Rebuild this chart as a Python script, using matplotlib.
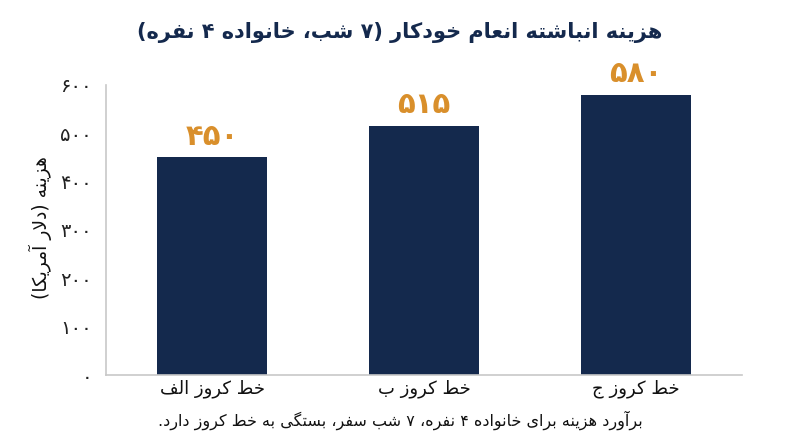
import matplotlib
matplotlib.use("Agg")
import matplotlib.pyplot as plt

# data
categories = ["خط کروز الف", "خط کروز ب", "خط کروز ج"]
costs = [450, 515, 580]
y_ticks = [0, 100, 200, 300, 400, 500, 600]
title = "هزینه انباشته انعام خودکار (۷ شب، خانواده ۴ نفره)"
y_label = "هزینه (دلار آمریکا)"
caption = "برآورد هزینه برای خانواده ۴ نفره، ۷ شب سفر، بستگی به خط کروز دارد."

NAVY = "#14294d"
ORANGE = "#d98f2b"

# matplotlib does no arabic shaping, so do a small one by hand
DUAL = {
    'ب': 0xFE8F, 'ت': 0xFE95, 'ث': 0xFE99, 'ج': 0xFE9D, 'ح': 0xFEA1,
    'خ': 0xFEA5, 'س': 0xFEB1, 'ش': 0xFEB5, 'ص': 0xFEB9, 'ض': 0xFEBD,
    'ط': 0xFEC1, 'ظ': 0xFEC5, 'ع': 0xFEC9, 'غ': 0xFECD, 'ف': 0xFED1,
    'ق': 0xFED5, 'ل': 0xFEDD, 'م': 0xFEE1, 'ن': 0xFEE5, 'ه': 0xFEE9,
    'پ': 0xFB56, 'چ': 0xFB7A, 'ک': 0xFB8E, 'گ': 0xFB92, 'ی': 0xFBFC,
}
RIGHT = {
    'ا': 0xFE8D, 'آ': 0xFE81, 'د': 0xFEA9, 'ذ': 0xFEAB, 'ر': 0xFEAD,
    'ز': 0xFEAF, 'و': 0xFEED, 'ژ': 0xFB8A,
}
LAM_ALEF = {'ا': 0xFEFB, 'آ': 0xFEF5}
DIGITS = set("۰۱۲۳۴۵۶۷۸۹0123456789")


def joins(c):
    return c in DUAL or c in RIGHT


def shape(text):
    out = []
    i = 0
    n = len(text)
    while i < n:
        c = text[i]
        prev = text[i - 1] if i > 0 else ''
        link_prev = prev in DUAL and joins(c)
        if c == 'ل' and i + 1 < n and text[i + 1] in LAM_ALEF:
            base = LAM_ALEF[text[i + 1]]
            out.append(chr(base + (1 if link_prev else 0)))
            i += 2
            continue
        nxt = text[i + 1] if i + 1 < n else ''
        if c in DUAL:
            link_next = joins(nxt)
            if link_prev and link_next:
                k = 3
            elif link_prev:
                k = 1
            elif link_next:
                k = 2
            else:
                k = 0
            out.append(chr(DUAL[c] + k))
        elif c in RIGHT:
            out.append(chr(RIGHT[c] + (1 if link_prev else 0)))
        else:
            out.append(c)
        i += 1
    return "".join(out)


def rtl(text):
    s = shape(text)
    runs = []
    for ch in s:
        is_d = ch in DIGITS
        if runs and runs[-1][0] == is_d:
            runs[-1][1].append(ch)
        else:
            runs.append((is_d, [ch]))
    mirror = {'(': ')', ')': '('}
    res = []
    for is_d, chars in reversed(runs):
        if is_d:
            res.extend(chars)
        else:
            res.extend(mirror.get(ch, ch) for ch in reversed(chars))
    return "".join(res)


def fa_num(v):
    return str(v).translate(str.maketrans("0123456789", "۰۱۲۳۴۵۶۷۸۹"))


plt.rcParams['font.family'] = ['DejaVu Sans']

fig = plt.figure(figsize=(8, 4.47), dpi=100)
ax = fig.add_axes([0.1325, 0.161, 0.795, 0.649])

x = list(range(len(categories)))
bars = ax.bar(x, costs, width=0.52, color=NAVY)

for b, v in zip(bars, costs):
    ax.text(b.get_x() + b.get_width() / 2, v + 14, fa_num(v),
            ha='center', va='bottom', fontsize=21, fontweight='bold',
            color=ORANGE)

ax.set_xlim(-0.5, 2.5)
ax.set_ylim(0, 600)
ax.set_xticks(x)
ax.set_xticklabels([rtl(c) for c in categories], fontsize=13, color='#111111')
ax.set_yticks(y_ticks)
ax.set_yticklabels([fa_num(t) for t in y_ticks], fontsize=14, color='#222222')
ax.tick_params(axis='both', length=0)
ax.tick_params(axis='x', pad=3)
ax.tick_params(axis='y', pad=10)

for side in ['top', 'right']:
    ax.spines[side].set_visible(False)
for side in ['left', 'bottom']:
    ax.spines[side].set_color('#c8c8c8')
    ax.spines[side].set_linewidth(1.2)

fig.text(0.05, 0.49, rtl(y_label), rotation=90, ha='center', va='center',
         fontsize=13.5, color='#111111')
fig.text(0.5, 0.928, rtl(title), ha='center', va='center', fontsize=15,
         fontweight='bold', color=NAVY)
fig.text(0.5, 0.06, rtl(caption), ha='center', va='center', fontsize=11.5,
         color='#111111')

fig.savefig("out.png", dpi=100)
